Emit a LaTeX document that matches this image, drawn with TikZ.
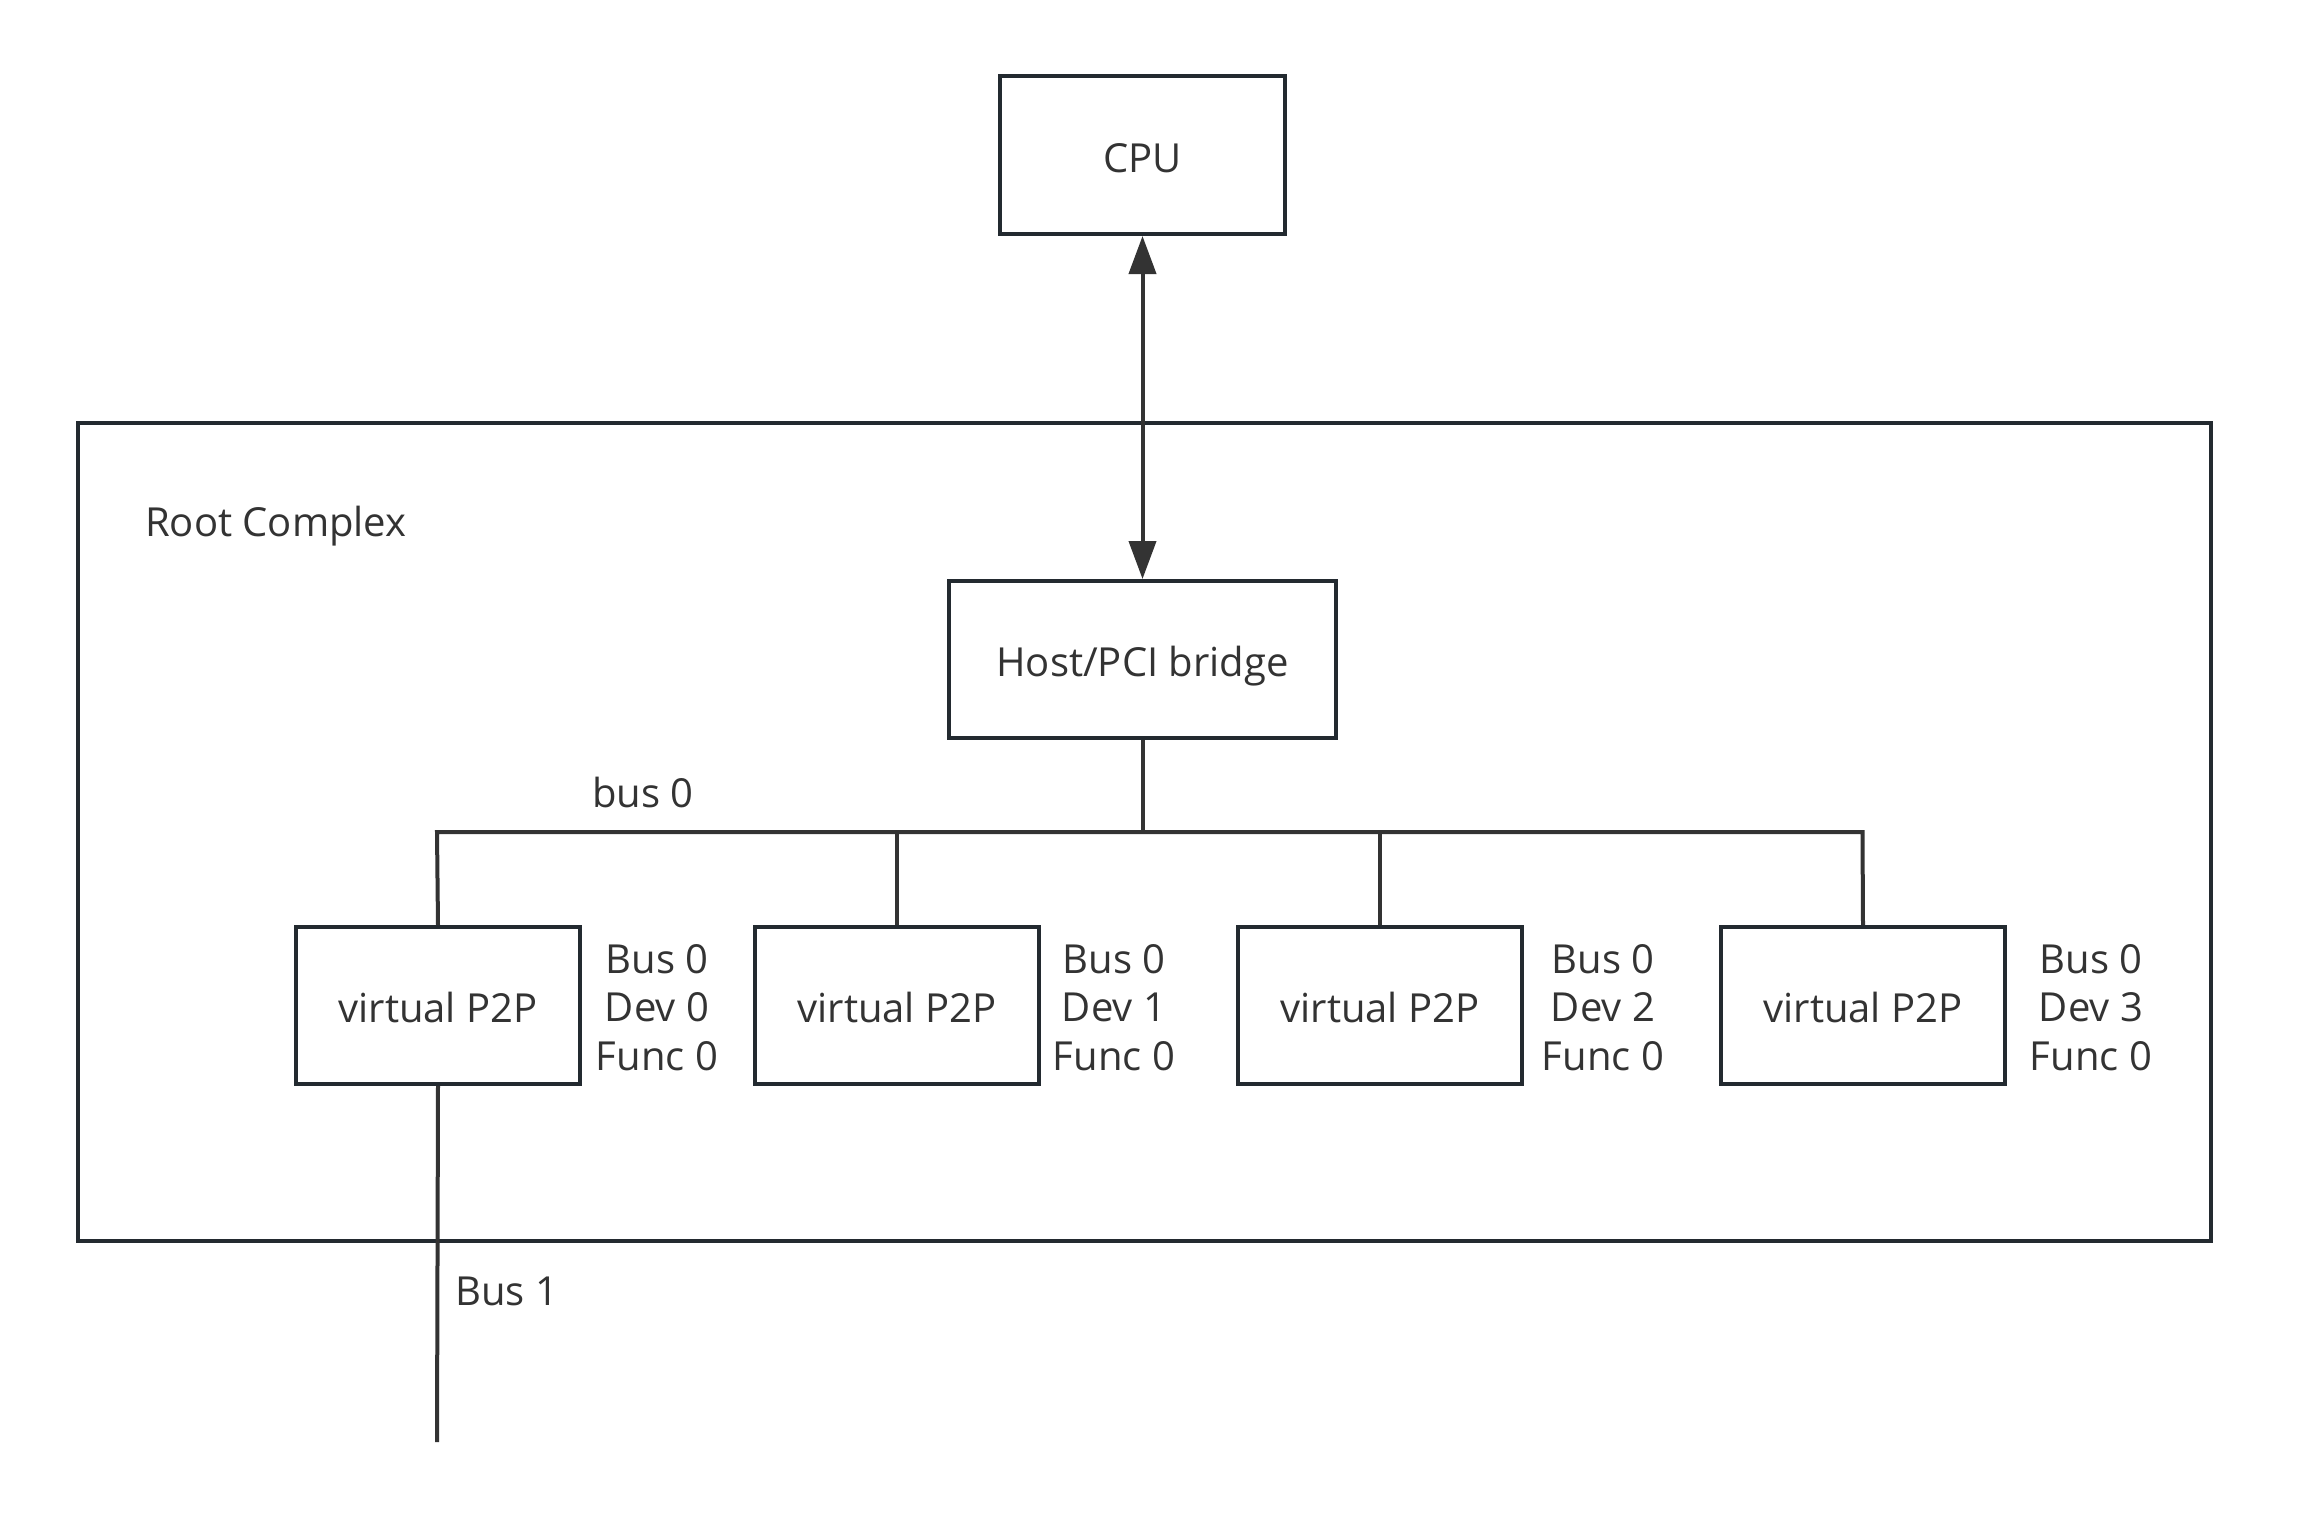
\documentclass[tikz,border=0pt]{standalone}
\usepackage{fontspec}
\setmainfont{Open Sans}
\usetikzlibrary{arrows.meta}
\definecolor{edge}{HTML}{232A30}
\definecolor{ink}{HTML}{333333}
\begin{document}
\begin{tikzpicture}[x=1pt,y=-1pt,
  box/.style={draw=edge, line width=4pt, fill=white, inner sep=0pt,
    text=ink, font=\fontsize{40}{49}\selectfont, text height=34pt, text depth=0pt},
  wire/.style={draw=ink, line width=4pt},
  lbl/.style={text=ink, inner sep=0pt, font=\fontsize{40}{48.5}\selectfont},
  p2p/.style={box, minimum width=284pt, minimum height=157pt}]
\useasboundingbox (0,0) rectangle (2316,1518);

% Root complex frame
\node[box, anchor=north west, minimum width=2133pt, minimum height=818pt] (rc) at (76,421) {};
\node[lbl, anchor=base west] (rctitle) at (145,536) {Root Complex};

% CPU and host bridge
\node[box, minimum width=285pt, minimum height=158pt] (cpu) at (1142.5,155) {CPU};
\node[box, minimum width=387pt, minimum height=157pt] (host) at (1142.5,659.5) {Host/PCI bridge};

% virtual PCI-to-PCI bridges
\node[p2p] (p1) at (438,1005.5) {virtual P2P};
\node[p2p] (p2) at (897,1005.5) {virtual P2P};
\node[p2p] (p3) at (1380,1005.5) {virtual P2P};
\node[p2p] (p4) at (1863,1005.5) {virtual P2P};

% bus/device/function labels
\node[lbl, align=center] (l1) at (657,1007.5) {Bus 0\\Dev 0\\Func 0};
\node[lbl, align=center] (l2) at (1114,1007.5) {Bus 0\\Dev 1\\Func 0};
\node[lbl, align=center] (l3) at (1603,1007.5) {Bus 0\\Dev 2\\Func 0};
\node[lbl, align=center] (l4) at (2091,1007.5) {Bus 0\\Dev 3\\Func 0};

% CPU <-> host bridge link
\draw[wire, {Triangle[length=38pt,width=27pt]}-{Triangle[length=38pt,width=27pt]}, fill=ink] (cpu.south) -- (host.north);

% bus 0
\coordinate (busL) at (437,832);
\coordinate (busR) at (1862.5,832);
\draw[wire] (p1.north) -- (busL) -- (busR) -- (p4.north);
\draw[wire] (host.south) -- (host.south |- busL);
\draw[wire] (p2.north) -- (p2.north |- busL);
\draw[wire] (p3.north) -- (p3.north |- busL);
\node[lbl, anchor=base] (bus0) at (643,807) {bus 0};

% bus 1
\coordinate (bus1end) at (437,1442);
\draw[wire] (p1.south) -- (bus1end);
\node[lbl, anchor=base west] (bus1) at (455,1305) {Bus 1};
\end{tikzpicture}
\end{document}
